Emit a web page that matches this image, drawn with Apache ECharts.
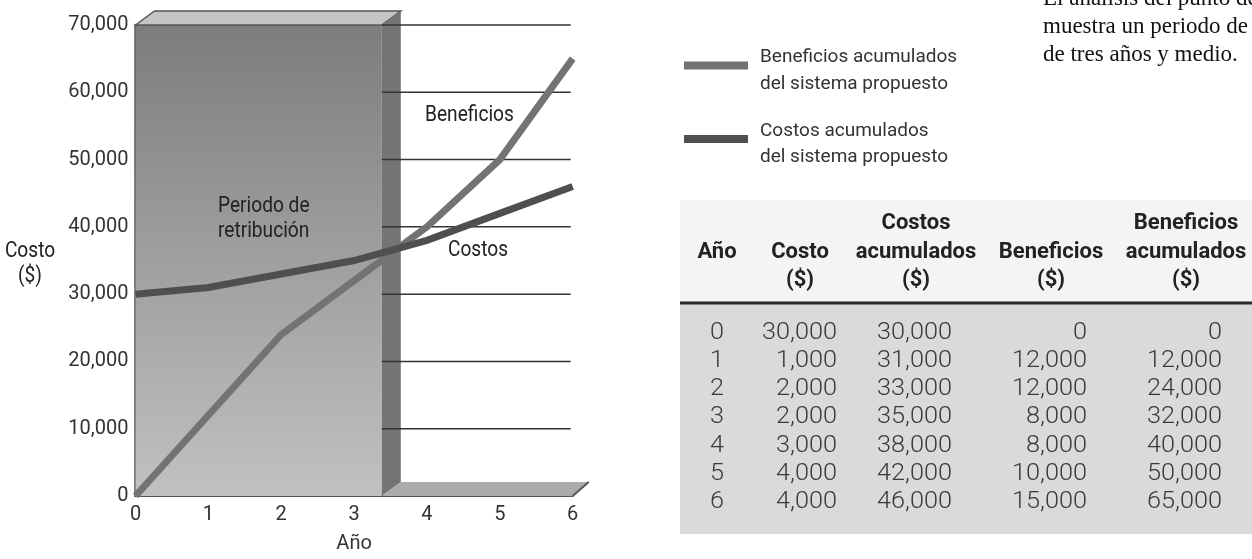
<!DOCTYPE html>
<html>
<head>
<meta charset="utf-8">
<title>Análisis del punto de equilibrio</title>
<script src="https://cdn.jsdelivr.net/npm/echarts@6/dist/echarts.min.js"></script>
<style>
  html, body { margin: 0; padding: 0; background: #ffffff; }
  #chart { width: 1252px; height: 559px; }
</style>
</head>
<body>
<div id="chart"></div>
<script>
// ---- Data ----
const years = [0, 1, 2, 3, 4, 5, 6];
const yearlyCost = [30000, 1000, 2000, 2000, 3000, 4000, 4000];
const cumulativeCost = [30000, 31000, 33000, 35000, 38000, 42000, 46000];
const yearlyBenefit = [0, 12000, 12000, 8000, 8000, 10000, 15000];
const cumulativeBenefit = [0, 12000, 24000, 32000, 40000, 50000, 65000];
const costTicks = [0, 10000, 20000, 30000, 40000, 50000, 60000, 70000];
const paybackEnd = 3.38;   // right edge of the shaded payback block, in years

const benefitName = 'Beneficios acumulados\ndel sistema propuesto';
const costName = 'Costos acumulados\ndel sistema propuesto';

const headerLabels = [
  ['Año'],
  ['Costo', '($)'],
  ['Costos', 'acumulados', '($)'],
  ['Beneficios', '($)'],
  ['Beneficios', 'acumulados', '($)']
];
const noteLines = ['El análisis del punto de', 'muestra un periodo de', 'de tres años y medio.'];

// ---- Styling ----
const SANS = 'Roboto, "Liberation Sans", sans-serif';
const SERIF = '"Liberation Serif", "DejaVu Serif", serif';
const NARROW_SCALE = 0.87;  // horizontal squeeze for the condensed-looking labels
const DX = 19, DY = -14;    // depth offset of the pseudo-3D block
// legend swatch: 64x8 bar sitting at the top of an 18px tall icon box
const LEGEND_ICON = 'path://M0,0L64,0L64,8L0,8Z M0,18L0.01,18Z';

const xMax = years[years.length - 1];
const yMax = costTicks[costTicks.length - 1];
const fmt = v => v.toLocaleString('en-US');

// Shaded payback block (front, top and side faces), floor and wall gridlines
function renderPaybackBlock(params, api) {
  const bl = api.coord([0, 0]);
  const tr = api.coord([paybackEnd, yMax]);
  const br = api.coord([paybackEnd, 0]);
  const fr = api.coord([xMax, 0]);
  const kids = [];
  kids.push({
    type: 'rect',
    shape: { x: bl[0], y: tr[1], width: tr[0] - bl[0], height: bl[1] - tr[1] },
    style: {
      fill: new echarts.graphic.LinearGradient(0, 0, 0, 1, [
        { offset: 0, color: '#7d7d7d' },
        { offset: 1, color: '#c1c1c1' }
      ])
    }
  });
  kids.push({
    type: 'polygon',
    shape: { points: [[bl[0], tr[1]], [bl[0] + DX, tr[1] + DY], [tr[0] + DX, tr[1] + DY], [tr[0], tr[1]]] },
    style: { fill: '#c4c4c4', stroke: '#555555', lineWidth: 1.5 }
  });
  kids.push({
    type: 'polygon',
    shape: { points: [[tr[0], tr[1]], [tr[0] + DX, tr[1] + DY], [br[0] + DX, br[1] + DY], [br[0], br[1]]] },
    style: { fill: '#747474' }
  });
  kids.push({
    type: 'polygon',
    shape: { points: [[br[0], br[1]], [br[0] + DX, br[1] + DY], [fr[0] + DX - 3, fr[1] + DY], [fr[0], fr[1]]] },
    style: { fill: '#ababab' }
  });
  kids.push({
    type: 'polyline',
    shape: { points: [[fr[0] + DX - 3, fr[1] + DY], [fr[0], fr[1]]] },
    style: { stroke: '#555555', lineWidth: 2, fill: null }
  });
  costTicks.forEach(v => {
    if (v === 0) return;
    const a = api.coord([paybackEnd, v]);
    const b = api.coord([xMax, v]);
    kids.push({
      type: 'line',
      shape: { x1: a[0], y1: a[1], x2: b[0] - 2, y2: b[1] },
      style: { stroke: '#333333', lineWidth: 1.5 }
    });
  });
  return { type: 'group', children: kids };
}

// ---- Table built from the arrays ----
const tableGraphics = [];
const tableLeft = 680, tableRight = 1252;
tableGraphics.push({ type: 'rect', z: 1, shape: { x: tableLeft, y: 200, width: tableRight - tableLeft, height: 102 }, style: { fill: '#f4f4f4' } });
tableGraphics.push({ type: 'rect', z: 1, shape: { x: tableLeft, y: 302, width: tableRight - tableLeft, height: 232 }, style: { fill: '#dadada' } });
tableGraphics.push({ type: 'rect', z: 2, shape: { x: tableLeft, y: 301.5, width: tableRight - tableLeft, height: 3 }, style: { fill: '#2a2a2a' } });

const colCenters = [717, 800, 916, 1051, 1186];
const colRights = [null, 837, 952, 1087, 1222];
const headerRowY = [223, 252, 280];
headerLabels.forEach((lines, c) => {
  const start = lines.length === 1 ? 1 : 3 - lines.length;
  lines.forEach((t, i) => {
    tableGraphics.push({
      type: 'text', z: 5, x: colCenters[c], y: headerRowY[start + i],
      style: { text: t, fill: '#222222', fontFamily: SANS, fontWeight: 'bold', fontSize: 22, align: 'center', verticalAlign: 'middle' }
    });
  });
});
const bodyColumns = [years, yearlyCost, cumulativeCost, yearlyBenefit, cumulativeBenefit];
years.forEach((yr, r) => {
  const y = 333 + r * 28.2;
  bodyColumns.forEach((col, c) => {
    const isYear = c === 0;
    tableGraphics.push({
      type: 'text', z: 5, x: isYear ? colCenters[0] : colRights[c], y: y, scaleX: 1.1,
      style: {
        text: isYear ? String(col[r]) : fmt(col[r]), fill: '#3a3a3a',
        fontFamily: SANS, fontWeight: 300, fontSize: 23,
        align: isYear ? 'center' : 'right', verticalAlign: 'middle'
      }
    });
  });
});

// ---- Free text labels ----
function narrowText(x, y, text, align) {
  return {
    type: 'text', z: 10, x: x, y: y, scaleX: NARROW_SCALE,
    style: { text: text, fill: '#222', fontFamily: SANS, fontSize: 22, lineHeight: 25, align: align, verticalAlign: 'middle' }
  };
}
const labelGraphics = [
  narrowText(30, 264, 'Costo\n($)', 'center'),
  narrowText(218, 219, 'Periodo de\nretribución', 'left'),
  narrowText(425, 115, 'Beneficios', 'left'),
  narrowText(448, 250, 'Costos', 'left')
];
noteLines.forEach((t, i) => {
  labelGraphics.push({ type: 'text', z: 10, x: 1043, y: -1 + i * 28, style: { text: t, fill: '#111', fontFamily: SERIF, fontSize: 23, align: 'left', verticalAlign: 'middle' } });
});

const chart = echarts.init(document.getElementById('chart'), null, { renderer: 'canvas' });
chart.setOption({
  animation: false,
  backgroundColor: '#ffffff',
  grid: { left: 135.5, right: 1252 - 572.7, top: 25, bottom: 57, containLabel: false },
  legend: {
    data: [benefitName, costName],
    orient: 'vertical',
    left: 684, top: 44, padding: 0,
    icon: LEGEND_ICON, itemWidth: 64, itemHeight: 18, itemGap: 20.5,
    selectedMode: false,
    itemStyle: { borderWidth: 0 },
    textStyle: { fontFamily: SANS, fontSize: 19, lineHeight: 26.5, color: '#333', padding: [0, 0, 0, 7] }
  },
  xAxis: {
    type: 'value', min: 0, max: xMax, interval: 1,
    axisLine: { show: true, lineStyle: { color: '#555', width: 2 } },
    axisTick: { show: false }, splitLine: { show: false },
    axisLabel: { fontFamily: SANS, fontSize: 20, color: '#333', margin: 9 },
    name: 'Año', nameLocation: 'middle', nameGap: 38,
    nameTextStyle: { fontFamily: SANS, fontSize: 20, color: '#333' }
  },
  yAxis: {
    type: 'value', min: 0, max: yMax, interval: 10000,
    axisLine: { show: true, lineStyle: { color: '#555', width: 2.5 } },
    axisTick: { show: false }, splitLine: { show: false },
    axisLabel: { fontFamily: SANS, fontSize: 20, color: '#333', margin: 7, formatter: v => fmt(v) }
  },
  series: [
    {
      type: 'custom', name: 'periodo', silent: true, z: 1,
      renderItem: renderPaybackBlock,
      data: [[paybackEnd, yMax]],
      clip: false
    },
    {
      type: 'line', name: benefitName, z: 3,
      data: years.map((y, i) => [y, cumulativeBenefit[i]]),
      showSymbol: false, symbol: 'none',
      lineStyle: { width: 7, color: '#737373', cap: 'butt', join: 'miter' },
      itemStyle: { color: '#737373' }
    },
    {
      type: 'line', name: costName, z: 4,
      data: years.map((y, i) => [y, cumulativeCost[i]]),
      showSymbol: false, symbol: 'none',
      lineStyle: { width: 7, color: '#4f4f4f', cap: 'butt', join: 'miter' },
      itemStyle: { color: '#4f4f4f' }
    }
  ],
  graphic: { elements: tableGraphics.concat(labelGraphics) }
});
</script>
</body>
</html>
